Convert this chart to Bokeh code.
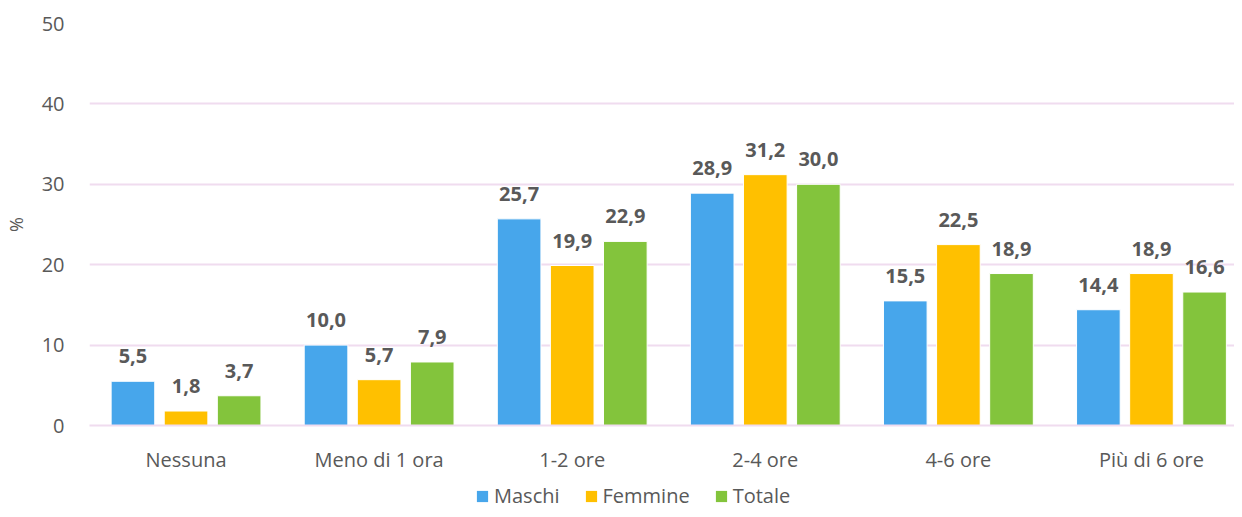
from bokeh.plotting import figure
from bokeh.layouts import column
from bokeh.models import ColumnDataSource, Range1d, FixedTicker, Legend, LegendItem, LabelSet
from bokeh.core.properties import value
from bokeh.transform import dodge
from bokeh.embed import file_html
from bokeh.resources import INLINE

categories = ["Nessuna", "Meno di 1 ora", "1-2 ore", "2-4 ore", "4-6 ore", "Più di 6 ore"]
maschi = [5.5, 10.0, 25.7, 28.9, 15.5, 14.4]
femmine = [1.8, 5.7, 19.9, 31.2, 22.5, 18.9]
totale = [3.7, 7.9, 22.9, 30.0, 18.9, 16.6]
series_names = ["Maschi", "Femmine", "Totale"]
colors = ["#47A6EB", "#FFC000", "#83C43C"]
y_ticks = [0, 10, 20, 30, 40, 50]

FONT = "Open Sans"
BOLD_FONT = "Noto Sans"
GREY = "#595959"
GRID = "#F0DCEF"

xs = list(range(len(categories)))
def fmt(v):
    return f"{v:.1f}".replace(".", ",")

source = ColumnDataSource(dict(
    x=xs,
    maschi=maschi, femmine=femmine, totale=totale,
    lm=[fmt(v) for v in maschi], lf=[fmt(v) for v in femmine], lt=[fmt(v) for v in totale],
))

p = figure(width=1234, height=475, output_backend="svg", toolbar_location=None,
           x_range=Range1d(-0.5, 5.43), y_range=Range1d(0, 50),
           min_border_left=87, min_border_top=23, min_border_right=0, min_border_bottom=48)
p.outline_line_color = None
p.background_fill_color = "white"
p.border_fill_color = "white"

offsets = [-0.275, 0.0, 0.275]
cols = ["maschi", "femmine", "totale"]
lbls = ["lm", "lf", "lt"]
for off, col, lb, c in zip(offsets, cols, lbls, colors):
    p.vbar(x=dodge("x", off), top=col, width=0.226, source=source,
           fill_color=c, line_color="white", line_width=1)
    labels = LabelSet(x=dodge("x", off), y=col, text=lb, source=source,
                      text_align="center", text_baseline="middle", y_offset=25,
                      text_font=value(BOLD_FONT), text_font_style="bold",
                      text_font_size="20px", text_color=GREY)
    p.add_layout(labels)

for ax in (p.xaxis, p.yaxis):
    ax.major_tick_line_color = None
    ax.minor_tick_line_color = None
    ax.major_tick_out = 0
    ax.major_tick_in = 0
    ax.minor_tick_out = 0
    ax.minor_tick_in = 0
    ax.major_label_text_font = FONT
    ax.major_label_text_font_size = "20px"
    ax.major_label_text_color = GREY

p.xaxis.ticker = FixedTicker(ticks=xs)
p.xaxis.major_label_overrides = {i: c for i, c in enumerate(categories)}
p.xaxis.axis_line_color = GRID
p.xaxis.axis_line_width = 2
p.xaxis.major_label_standoff = 20

p.yaxis.ticker = FixedTicker(ticks=y_ticks)
p.yaxis.axis_line_color = None
p.yaxis.major_label_standoff = 25
p.yaxis.axis_label = "%"
p.yaxis.axis_label_text_font = FONT
p.yaxis.axis_label_text_font_size = "18px"
p.yaxis.axis_label_text_font_style = "normal"
p.yaxis.axis_label_text_color = GREY
p.yaxis.axis_label_standoff = 11

p.xgrid.grid_line_color = None
p.ygrid.grid_line_color = GRID
p.ygrid.grid_line_width = 2

# legend strip below the chart (its view range keeps the bars themselves out of sight)
lg = figure(width=1234, height=34, output_backend="svg", toolbar_location=None,
            x_range=Range1d(-3, -2), y_range=Range1d(0, 1),
            min_border_left=0, min_border_right=0, min_border_top=0, min_border_bottom=0)
lg.outline_line_color = None
lg.axis.visible = False
lg.grid.visible = False
swatches = [lg.vbar(x=dodge("x", off), top=col, width=0.226, source=source,
                    fill_color=c, line_color=None)
            for off, col, c in zip(offsets, cols, colors)]
legend = Legend(items=[LegendItem(label=n, renderers=[r]) for n, r in zip(series_names, swatches)],
                orientation="horizontal", location=(386, 0),
                label_text_font=FONT, label_text_font_size="20px", label_text_color=GREY,
                glyph_width=14, glyph_height=14, label_standoff=5, spacing=24,
                border_line_color=None, background_fill_alpha=0, padding=0, margin=0)
lg.add_layout(legend, "center")

layout = column(p, lg, spacing=0)
open("out.html", "w").write(file_html(layout, INLINE))
